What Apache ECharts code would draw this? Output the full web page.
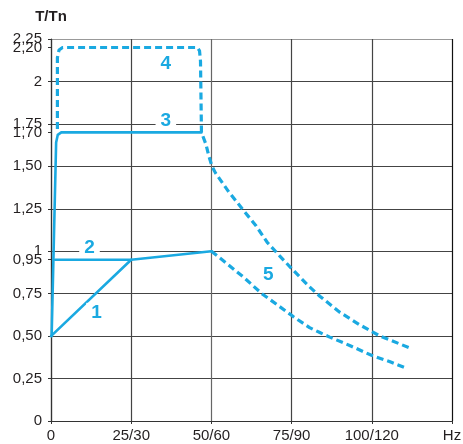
<!DOCTYPE html>
<html>
<head>
<meta charset="utf-8">
<script src="https://cdn.jsdelivr.net/npm/echarts@6/dist/echarts.min.js"></script>
<style>
html,body{margin:0;padding:0;background:#fff;}
#chart{width:463px;height:444px;}
</style>
</head>
<body>
<div id="chart"></div>
<script>
// ---- data ----
const xTickValues = [0, 25, 50, 75, 100, 125];
const xTickLabels = ['0', '25/30', '50/60', '75/90', '100/120', 'Hz'];
const yTickValues = [0, 0.25, 0.5, 0.75, 1, 1.25, 1.5, 1.75, 2, 2.25];
const yTickLabels = ['0', '0,25', '0,50', '0,75', '1', '1,25', '1,50', '1,75', '2', '2,25'];
const yExtraValues = [0.95, 1.7, 2.2];
const yExtraLabels = ['0,95', '1,70', '2,20'];

const curve1 = [[0, 0.5], [25, 0.95], [50, 1.0]];
const curve2 = [[1.3, 0.95], [25, 0.95]];
const curve3 = [[0.2, 0.5], [1.6, 1.64], [2.1, 1.685], [3.2, 1.70], [46.9, 1.70]];
const curve4 = [[2.0, 1.72], [2.0, 2.14], [2.5, 2.185], [3.6, 2.20], [45.6, 2.20], [46.3, 2.18], [46.6, 2.12], [46.9, 1.70],
  [47.5, 1.67], [48.3, 1.63], [49.2, 1.56], [50.2, 1.50], [51.3, 1.46], [55.4, 1.35], [59.6, 1.25], [63.9, 1.15],
  [67.5, 1.05], [71.4, 0.97], [75.4, 0.89], [80.6, 0.79], [83.8, 0.735], [90, 0.641], [96.2, 0.567], [102.6, 0.50], [111.9, 0.43]];
const curve5 = [[50, 1.0], [54.9, 0.926], [60.1, 0.846], [65.7, 0.75], [70.4, 0.686], [75.5, 0.615], [80.6, 0.55],
  [83.8, 0.521], [86.9, 0.494], [93.1, 0.445], [99.9, 0.387], [105.5, 0.35], [111.1, 0.308]];

const curveTexts = ['1', '2', '3', '4', '5'];
const curveTextX = [14.2, 12, 35.8, 35.8, 67.7];
const curveTextY = [0.64, 1.02, 1.77, 2.105, 0.864];

// ---- chart ----
const BLUE = '#1aa9e1';
const chart = echarts.init(document.getElementById('chart'), null, {renderer: 'canvas'});
const fontFamily = '"Liberation Sans", Arial, sans-serif';

const solid = {color: BLUE, width: 2.6, type: 'solid', join: 'round', cap: 'round'};
const dashed = {color: BLUE, width: 3.2, type: [7, 4], join: 'round'};

function lineSeries(data, style) {
  return {
    type: 'line', data: data, showSymbol: false, symbol: 'none', smooth: false,
    lineStyle: style, silent: true, animation: false, z: 5
  };
}

const yLabelMap = {};
yTickValues.forEach((v, i) => { yLabelMap[v.toFixed(2)] = yTickLabels[i]; });
const yExtraMap = {};
yExtraValues.forEach((v, i) => { yExtraMap[v.toFixed(2)] = yExtraLabels[i]; });
const xLabelMap = {};
xTickValues.forEach((v, i) => { xLabelMap[v] = xTickLabels[i]; });

const option = {
  backgroundColor: '#fff',
  animation: false,
  grid: {left: 51, right: 11, top: 39, bottom: 23, containLabel: false, outerBoundsMode: 'none'},
  xAxis: {
    type: 'value', min: 0, max: 125, interval: 25,
    axisLine: {show: true, onZero: false, lineStyle: {color: '#333', width: 1.2}},
    axisTick: {show: true, length: 3, inside: false, lineStyle: {color: '#333'}},
    axisLabel: {
      show: true, margin: 7, fontSize: 15, color: '#231f20', fontFamily: fontFamily,
      showMinLabel: true, showMaxLabel: true,
      formatter: v => (xLabelMap[v] !== undefined ? xLabelMap[v] : '')
    },
    splitLine: {show: true, lineStyle: {color: ['#444', '#444', '#666', '#444', '#444', '#111'], width: 1.2}}
  },
  yAxis: [{
    type: 'value', min: 0, max: 2.25, interval: 0.25, position: 'left',
    name: 'T/Tn', nameLocation: 'end', nameGap: 15,
    nameTextStyle: {fontSize: 15, fontWeight: 'bold', color: '#231f20', fontFamily: fontFamily, align: 'center'},
    axisLine: {show: true, onZero: false, lineStyle: {color: '#333', width: 1.2}},
    axisTick: {show: true, length: 3, lineStyle: {color: '#333'}},
    axisLabel: {
      show: true, margin: 9, fontSize: 15, color: '#231f20', fontFamily: fontFamily,
      showMinLabel: true, showMaxLabel: true,
      formatter: v => (yLabelMap[v.toFixed(2)] || '')
    },
    splitLine: {show: true, lineStyle: {color: ['#444', '#444', '#444', '#444', '#444', '#444', '#444', '#444', '#444', '#999'], width: 1.2}}
  }, {
    type: 'value', min: 0, max: 2.25, position: 'left', offset: 0,
    axisLine: {show: false},
    axisTick: {show: true, length: 3, customValues: yExtraValues, lineStyle: {color: '#333'}},
    axisLabel: {
      show: true, margin: 9, fontSize: 15, color: '#231f20', fontFamily: fontFamily,
      customValues: yExtraValues,
      formatter: v => (yExtraMap[v.toFixed(2)] || '')
    },
    splitLine: {show: false}
  }],
  series: [
    lineSeries(curve1, solid),
    lineSeries(curve2, solid),
    lineSeries(curve3, solid),
    lineSeries(curve4, dashed),
    lineSeries(curve5, dashed),
    {
      type: 'scatter', symbolSize: 0, silent: true, z: 10,
      itemStyle: {opacity: 1},
      data: curveTexts.map((t, i) => [curveTextX[i], curveTextY[i], t]),
      label: {
        show: true, position: 'inside', formatter: p => p.value[2], opacity: 1,
        fontSize: 19, fontWeight: 'bold', color: BLUE, fontFamily: fontFamily,
        backgroundColor: '#fff', padding: [0, 5]
      }
    }
  ]
};
chart.setOption(option);
</script>
</body>
</html>
